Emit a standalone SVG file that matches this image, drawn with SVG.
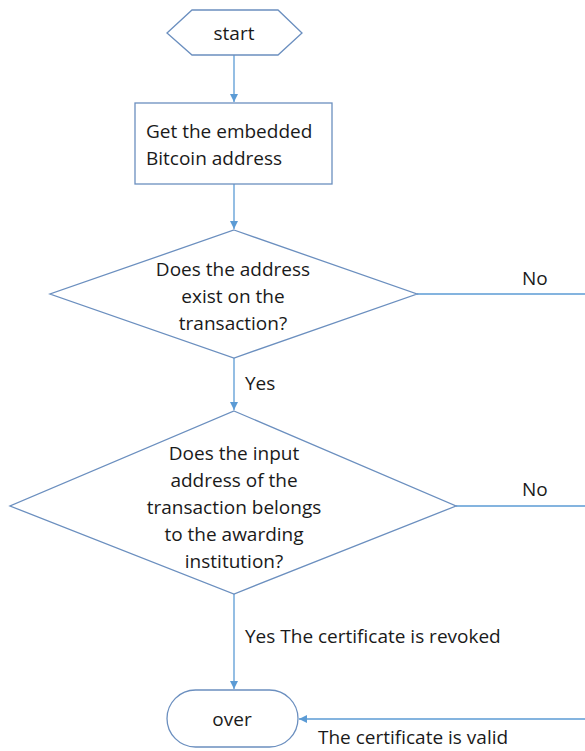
<svg xmlns="http://www.w3.org/2000/svg" width="585" height="751" viewBox="0 0 585 751">
<style>
.shape{fill:#fff;stroke:#6b8fbf;stroke-width:1.3}
.conn{fill:none;stroke:#5b9bd5;stroke-width:1.3}
text{font-family:"Open Sans","Liberation Sans",sans-serif;font-size:19px;fill:#1a1a1a}
.c{text-anchor:middle}
</style>
<defs>
<marker id="ah" viewBox="0 0 10 10" refX="10" refY="5" markerWidth="8" markerHeight="8" markerUnits="userSpaceOnUse" orient="auto">
<path d="M0,0 L10,5 L0,10 z" fill="#5b9bd5"/>
</marker>
</defs>
<rect width="585" height="751" fill="#fff"/>
<g id="connectors">
<line class="conn" x1="234" y1="55" x2="234" y2="102" marker-end="url(#ah)"/>
<line class="conn" x1="234" y1="184" x2="234" y2="229" marker-end="url(#ah)"/>
<line class="conn" x1="234" y1="358" x2="234" y2="410" marker-end="url(#ah)"/>
<text x="245" y="390">Yes</text>
<line class="conn" x1="417" y1="294" x2="585" y2="294"/>
<text x="522" y="285">No</text>
<line class="conn" x1="456" y1="506" x2="585" y2="506"/>
<text x="522" y="496">No</text>
<line class="conn" x1="234" y1="594" x2="234" y2="689" marker-end="url(#ah)"/>
<text x="245" y="643">Yes The certificate is revoked</text>
<line class="conn" x1="585" y1="719" x2="299" y2="719" marker-end="url(#ah)"/>
<text x="318" y="744">The certificate is valid</text>
</g>
<g id="start">
<polygon class="shape" points="167,33 192,10 278,10 302,33 278,55 192,55"/>
<text class="c" x="234" y="40">start</text>
</g>
<g id="get-address">
<rect class="shape" x="135" y="103" width="197" height="81"/>
<text x="146" y="138">Get the embedded</text>
<text x="146" y="165">Bitcoin address</text>
</g>
<g id="decision1">
<polygon class="shape" points="234,230 417,294 234,358 50,294"/>
<text class="c" x="233" y="276">Does the address</text>
<text class="c" x="233" y="303">exist on the</text>
<text class="c" x="233" y="330">transaction?</text>
</g>
<g id="decision2">
<polygon class="shape" points="234,411 456,506 234,594 10,506"/>
<text class="c" x="234" y="460">Does the input</text>
<text class="c" x="234" y="487">address of the</text>
<text class="c" x="234" y="514">transaction belongs</text>
<text class="c" x="234" y="541">to the awarding</text>
<text class="c" x="234" y="568">institution?</text>
</g>
<g id="over">
<rect class="shape" x="167" y="690" width="131" height="57" rx="28.5" ry="28.5"/>
<text class="c" x="232" y="726">over</text>
</g>
</svg>
